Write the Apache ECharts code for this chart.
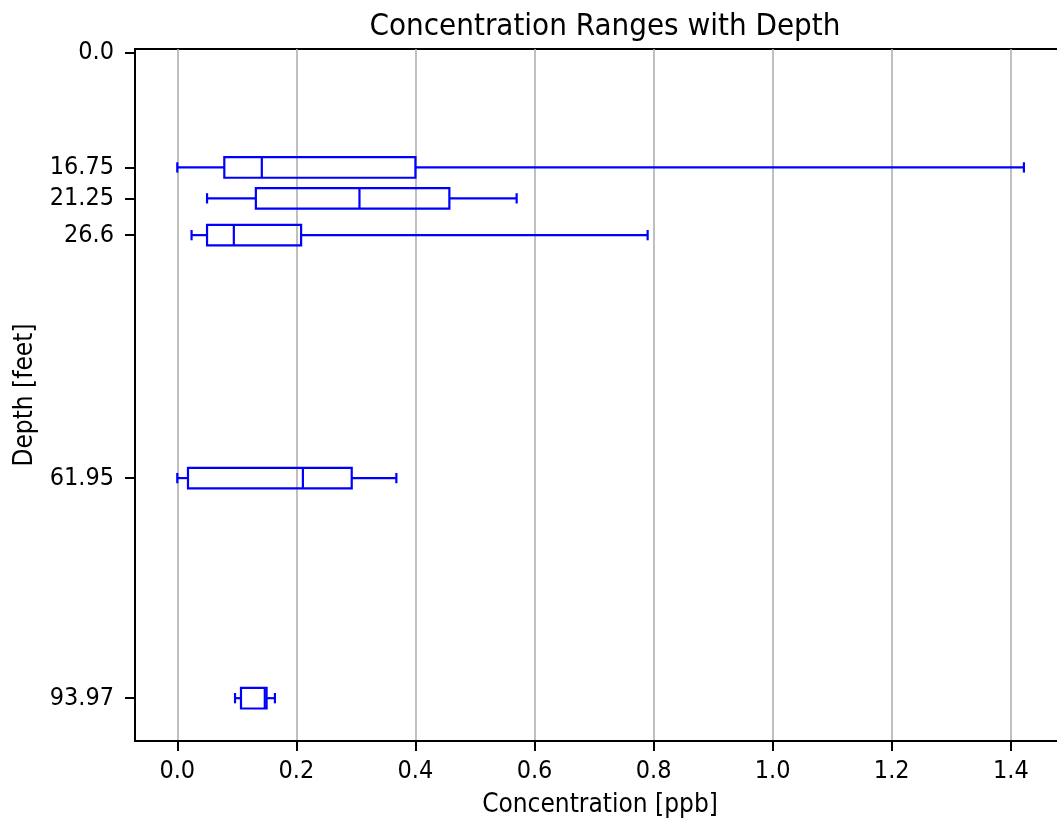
<!DOCTYPE html>
<html><head><meta charset="utf-8">
<script src="https://cdn.jsdelivr.net/npm/echarts@6/dist/echarts.min.js"></script>
<style>html,body{margin:0;padding:0;background:#fff;overflow:hidden;width:1057px;height:826px}#c{width:1065px;height:826px}</style>
</head><body><div id="c"></div>
<script>
// ---- data ----
const depths       = [16.75, 21.25, 26.6, 61.95, 93.97];
const whiskerLow   = [0.000, 0.050, 0.024, 0.000, 0.097];
const quartile1    = [0.079, 0.132, 0.050, 0.018, 0.107];
const medians      = [0.142, 0.306, 0.095, 0.211, 0.147];
const quartile3    = [0.400, 0.457, 0.208, 0.293, 0.150];
const whiskerHigh  = [1.422, 0.570, 0.790, 0.368, 0.164];
const xTickValues  = [0, 0.2, 0.4, 0.6, 0.8, 1.0, 1.2, 1.4];
const xTickLabels  = ['0.0', '0.2', '0.4', '0.6', '0.8', '1.0', '1.2', '1.4'];
const yTickValues  = [0, 16.75, 21.25, 26.6, 61.95, 93.97];
const yTickLabels  = ['0.0', '16.75', '21.25', '26.6', '61.95', '93.97'];

// ---- rendering ----
const BOX_SPAN = 3;          // box thickness in depth units
const FONT = "'DejaVu Sans Condensed', 'DejaVu Sans', sans-serif";
const BLUE = '#0000ff';

const boxData = depths.map((d, i) => [d, whiskerLow[i], quartile1[i], medians[i], quartile3[i], whiskerHigh[i]]);

function lookup(vals, labels, v) {
  for (let i = 0; i < vals.length; i++) if (Math.abs(vals[i] - v) < 1e-9) return labels[i];
  return '';
}

const chart = echarts.init(document.getElementById('c'), null, {renderer: 'canvas'});
chart.setOption({
  animation: false,
  backgroundColor: '#fff',
  title: {
    text: 'Concentration Ranges with Depth',
    left: 600, top: 6, textAlign: 'center',
    textStyle: {fontFamily: FONT, fontSize: 31, fontWeight: 'normal', color: '#000'}
  },
  grid: {left: 135, right: 0, top: 49, bottom: 85, show: true, borderColor: '#000', borderWidth: 2, backgroundColor: 'transparent'},
  xAxis: {
    type: 'value', min: -0.071, max: 1.491,
    name: 'Concentration [ppb]', nameLocation: 'middle', nameGap: 51,
    nameTextStyle: {fontFamily: FONT, fontSize: 26, color: '#000'},
    axisLine: {show: true, onZero: false, lineStyle: {color: '#000', width: 2}},
    axisTick: {show: true, customValues: xTickValues, length: 10, lineStyle: {color: '#000', width: 2}},
    axisLabel: {customValues: xTickValues, formatter: v => lookup(xTickValues, xTickLabels, v),
      margin: 18, fontFamily: FONT, fontSize: 25, color: '#000'},
    splitLine: {show: true, lineStyle: {color: '#b0b0b0', width: 1.6}}
  },
  yAxis: {
    type: 'value', inverse: true, min: -0.48, max: 100.2,
    name: 'Depth [feet]', nameLocation: 'middle', nameGap: 95,
    nameTextStyle: {fontFamily: FONT, fontSize: 26, color: '#000'},
    axisLine: {show: true, onZero: false, lineStyle: {color: '#000', width: 2}},
    axisTick: {show: true, customValues: yTickValues, length: 10, lineStyle: {color: '#000', width: 2}},
    axisLabel: {customValues: yTickValues, formatter: v => lookup(yTickValues, yTickLabels, v),
      margin: 21, fontFamily: FONT, fontSize: 25, color: '#000'},
    splitLine: {show: false}
  },
  series: [{
    type: 'custom',
    data: boxData,
    encode: {x: [1, 2, 3, 4, 5], y: 0},
    renderItem: function (params, api) {
      const d = api.value(0);
      const pLo = api.coord([api.value(1), d]);
      const pA = api.coord([api.value(2), d]);
      const pM = api.coord([api.value(3), d]);
      const pB = api.coord([api.value(4), d]);
      const pHi = api.coord([api.value(5), d]);
      const half = api.size([0, BOX_SPAN], [api.value(3), d])[1] / 2;
      const cap = half / 2;
      const y = pA[1];
      const st = {stroke: BLUE, lineWidth: 2.2, fill: 'none'};
      return {type: 'group', children: [
        {type: 'rect', shape: {x: pA[0], y: y - half, width: pB[0] - pA[0], height: 2 * half}, style: st},
        {type: 'line', shape: {x1: pM[0], y1: y - half, x2: pM[0], y2: y + half}, style: st},
        {type: 'line', shape: {x1: pLo[0], y1: y, x2: pA[0], y2: y}, style: st},
        {type: 'line', shape: {x1: pB[0], y1: y, x2: pHi[0], y2: y}, style: st},
        {type: 'line', shape: {x1: pLo[0], y1: y - cap, x2: pLo[0], y2: y + cap}, style: st},
        {type: 'line', shape: {x1: pHi[0], y1: y - cap, x2: pHi[0], y2: y + cap}, style: st}
      ]};
    }
  }]
});
</script></body></html>
